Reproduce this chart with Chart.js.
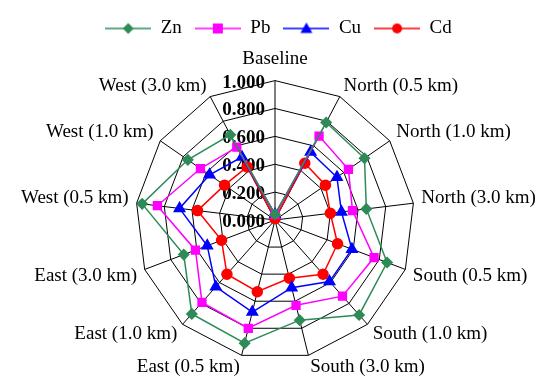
<!DOCTYPE html>
<html>
<head>
<meta charset="utf-8">
<script src="https://cdn.jsdelivr.net/npm/chart.js@4/dist/chart.umd.min.js"></script>
<style>
html,body{margin:0;padding:0;background:#fff;}
#wrap{width:551px;height:378px;}
</style>
</head>
<body>
<div id="wrap"><canvas id="c" width="551" height="378"></canvas></div>
<script>
const categories = ["Baseline","North (0.5 km)","North (1.0 km)","North (3.0 km)","South (0.5 km)","South (1.0 km)","South (3.0 km)","East (0.5 km)","East (1.0 km)","East (3.0 km)","West (0.5 km)","West (1.0 km)","West (3.0 km)"];
const seriesNames = ["Zn","Pb","Cu","Cd"];
const zn = [0.04, 0.79, 0.78, 0.66, 0.86, 0.91, 0.74, 0.91, 0.90, 0.70, 0.96, 0.76, 0.69];
const pb = [0.04, 0.68, 0.64, 0.56, 0.76, 0.73, 0.63, 0.80, 0.79, 0.61, 0.85, 0.65, 0.59];
const cu = [0.04, 0.55, 0.54, 0.48, 0.59, 0.59, 0.50, 0.68, 0.64, 0.52, 0.69, 0.57, 0.51];
const cd = [0.01, 0.46, 0.44, 0.40, 0.48, 0.52, 0.43, 0.53, 0.52, 0.41, 0.56, 0.44, 0.43];
const tickValues = [0, 0.2, 0.4, 0.6, 0.8, 1.0];

const FAMILY = 'Liberation Serif, Times New Roman, serif';
Chart.defaults.font.family = FAMILY;

const colors = ["#2E8B57", "#FF00FF", "#0000FF", "#FF0000"];
const styles = ["rectRot", "rect", "triangle", "circle"];
const radii = [5, 5.5, 6, 5];
const values = [zn, pb, cu, cd];

function legendImage(color, style) {
  const c = document.createElement('canvas');
  c.width = 46; c.height = 16;
  const ctx = c.getContext('2d');
  ctx.strokeStyle = color; ctx.lineWidth = 1.5;
  ctx.beginPath(); ctx.moveTo(0, 8); ctx.lineTo(46, 8); ctx.stroke();
  ctx.fillStyle = color;
  ctx.beginPath();
  const x = 23, y = 8;
  if (style === 'rectRot') { ctx.moveTo(x, y-5.5); ctx.lineTo(x+5.5, y); ctx.lineTo(x, y+5.5); ctx.lineTo(x-5.5, y); ctx.closePath(); }
  else if (style === 'rect') { ctx.rect(x-5, y-5, 10, 10); }
  else if (style === 'triangle') { ctx.moveTo(x, y-6); ctx.lineTo(x+6, y+4.5); ctx.lineTo(x-6, y+4.5); ctx.closePath(); }
  else { ctx.arc(x, y, 5, 0, Math.PI*2); }
  ctx.fill();
  return c;
}
const legendImgs = colors.map((c, i) => legendImage(c, styles[i]));

const tickLabelPlugin = {
  id: 'tickLabels',
  beforeDatasetsDraw(chart) {
    const s = chart.scales.r;
    const ctx = chart.ctx;
    ctx.save();
    ctx.font = 'bold 19px ' + FAMILY;
    ctx.fillStyle = '#000';
    ctx.textAlign = 'right';
    ctx.textBaseline = 'middle';
    tickValues.forEach(v => {
      const d = s.getDistanceFromCenterForValue(v);
      ctx.fillText(v.toFixed(3), s.xCenter - 10, s.yCenter - d + 2);
    });
    ctx.restore();
  }
};

new Chart(document.getElementById('c'), {
  type: 'radar',
  data: {
    labels: categories,
    datasets: seriesNames.map((n, i) => ({
      label: n,
      data: values[i],
      borderColor: colors[i],
      backgroundColor: colors[i],
      pointBackgroundColor: colors[i],
      pointBorderColor: colors[i],
      pointStyle: styles[i],
      pointRadius: radii[i],
      borderWidth: 1.5,
      fill: false
    }))
  },
  options: {
    responsive: false,
    animation: false,
    layout: { padding: { top: 6, bottom: 0, left: 6, right: 0 } },
    plugins: {
      tooltip: { enabled: false },
      legend: {
        position: 'top',
        labels: {
          usePointStyle: true,
          pointStyleWidth: 46,
          padding: 13,
          color: '#000',
          font: { family: FAMILY, size: 19 },
          generateLabels(chart) {
            const items = Chart.defaults.plugins.legend.labels.generateLabels(chart);
            items.forEach(it => { it.pointStyle = legendImgs[it.datasetIndex]; });
            return items;
          }
        }
      }
    },
    scales: {
      r: {
        min: 0, max: 1,
        ticks: { stepSize: 0.2, display: false },
        grid: { color: '#000', lineWidth: 1, circular: false },
        angleLines: { color: '#000', lineWidth: 1 },
        pointLabels: {
          color: '#000',
          font: { family: FAMILY, size: 19, lineHeight: 0.4 },
          padding: (c) => c.index === 0 ? 18 : 8
        }
      }
    }
  },
  plugins: [tickLabelPlugin]
});
</script>
</body>
</html>
